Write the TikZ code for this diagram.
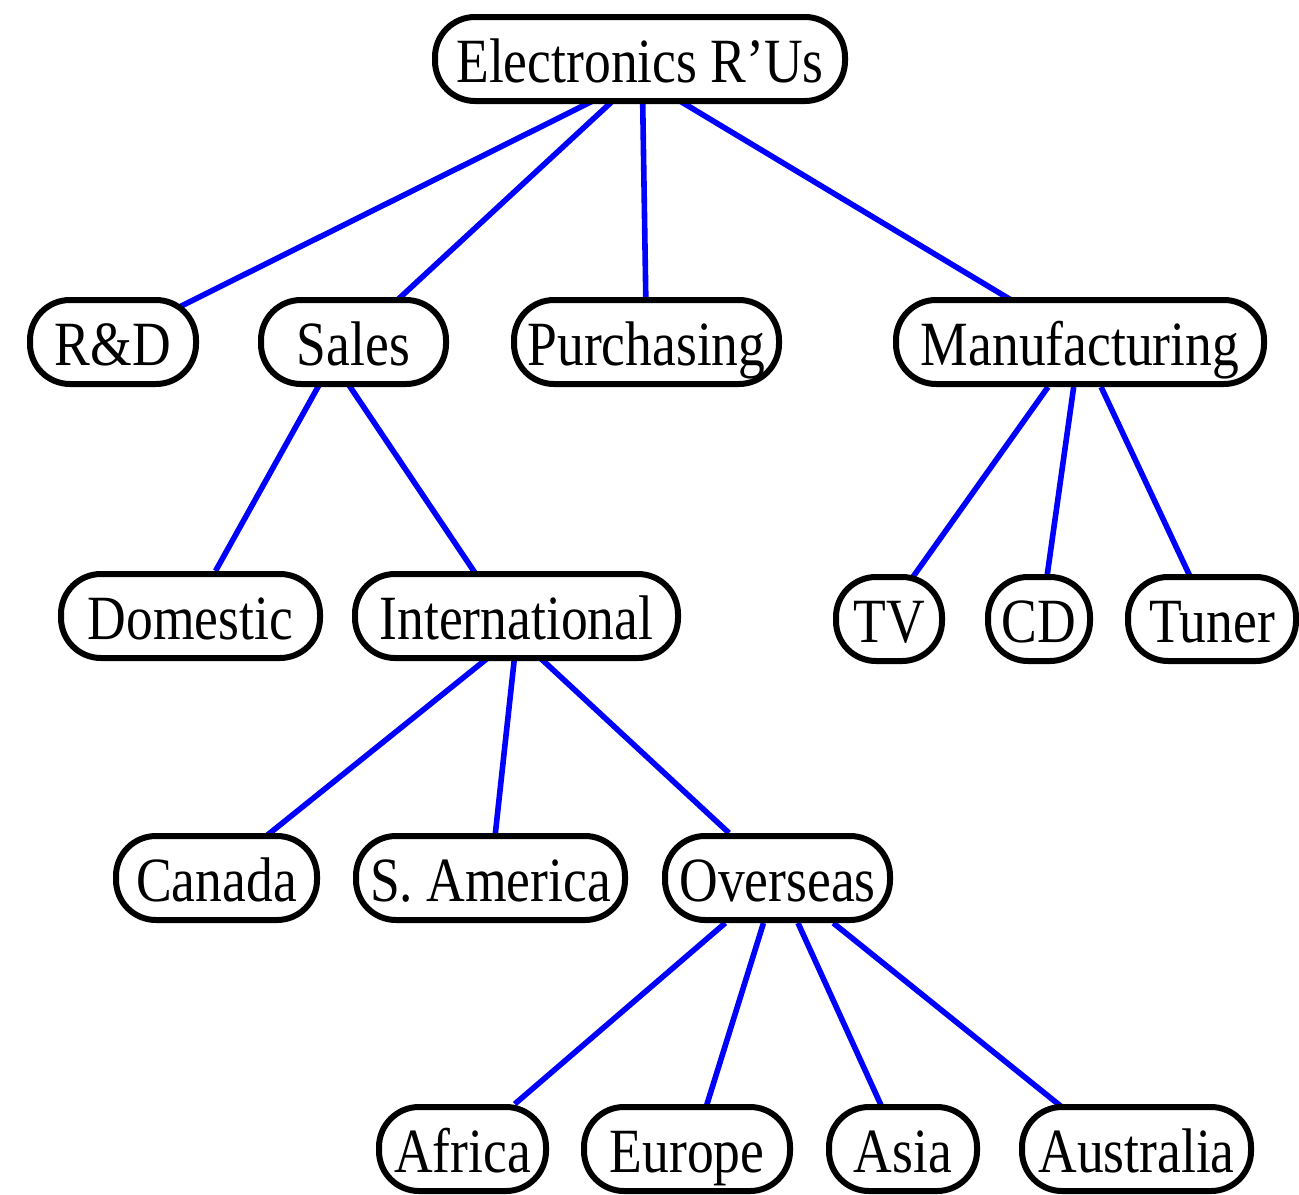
\documentclass[tikz,border=0pt]{standalone}
\usepackage{fontspec}
\setmainfont{Liberation Serif}[FakeStretch=0.85]
\usetikzlibrary{calc,backgrounds}
\tikzset{
	unit/.style={draw=black, line width=3pt, fill=white, rounded corners=20pt,
		minimum height=42pt, inner sep=0pt, text height=27pt, text depth=4pt,
		font=\fontsize{31.5}{36}\selectfont},
	link/.style={draw=blue, line width=2.8pt}
}

\begin{document}
\begin{tikzpicture}[x=0.5pt, y=-0.5pt]
			%%%%% START %%%%%
			\useasboundingbox (0,0) rectangle (1299,1194);
			
			\node[unit, minimum width=205pt] (root) at (640,59) {Electronics R'Us};
			
			\node[unit, minimum width=83pt] (rd) at (113,342) {R\&D};
			\node[unit, minimum width=92.5pt] (sales) at (353.5,342) {Sales};
			\node[unit, minimum width=132.5pt] (purch) at (646.5,342) {Purchasing};
			\node[unit, minimum width=184pt] (manuf) at (1080,342) {Manufacturing};
			
			\node[unit, minimum width=129.5pt] (dom) at (190.5,616) {Domestic};
			\node[unit, minimum width=161.5pt] (intl) at (516.5,616) {International};
			\node[unit, minimum width=53pt] (tv) at (889,619) {TV};
			\node[unit, minimum width=51pt] (cd) at (1039,619) {CD};
			\node[unit, minimum width=84pt] (tuner) at (1212,619) {Tuner};
			
			\node[unit, minimum width=100.5pt] (canada) at (216.5,878) {Canada};
			\node[unit, minimum width=134.5pt] (samer) at (490.5,878) {S. America};
			\node[unit, minimum width=112.5pt] (overseas) at (777.5,878) {Overseas};
			
			\node[unit, minimum width=83.5pt] (africa) at (462.5,1149) {Africa};
			\node[unit, minimum width=103pt] (europe) at (687,1149) {Europe};
			\node[unit, minimum width=74pt] (asia) at (903,1149) {Asia};
			\node[unit, minimum width=114.5pt] (australia) at (1136.5,1149) {Australia};
			
			\begin{scope}[on background layer]
				\draw[link] ($(root)+(37,0)$) -- ($(rd)+(-4,0)$);
				\draw[link] ($(root)+(18,0)$) -- ($(sales)+(-1.5,0)$);
				\draw[link] ($(root)+(2,0)$) -- (purch);
				\draw[link] ($(root)+(-30,0)$) -- ($(manuf)+(1,0)$);
				
				\draw[link] ($(sales)+(-10.5,0)$) -- (dom);
				\draw[link] ($(sales)+(-33.5,0)$) -- ($(intl)+(-12.5,0)$);
				
				\draw[link] (manuf) -- ($(tv)+(-6,0)$);
				\draw[link] (manuf) -- ($(cd)+(2,0)$);
				\draw[link] (manuf) -- ($(tuner)+(-2,0)$);
				
				\draw[link] ($(intl)+(23.5,0)$) -- ($(canada)+(-2.5,0)$);
				\draw[link] ($(intl)+(2.5,0)$) -- (samer);
				\draw[link] ($(intl)+(-21.5,0)$) -- (overseas);
				
				\draw[link] (overseas) -- (africa);
				\draw[link] (overseas) -- ($(europe)+(6,0)$);
				\draw[link] (overseas) -- ($(asia)+(-2,0)$);
				\draw[link] (overseas) -- ($(australia)+(-22.5,0)$);
			\end{scope}
			
			%%%%% END %%%%%
\end{tikzpicture}
\end{document}
